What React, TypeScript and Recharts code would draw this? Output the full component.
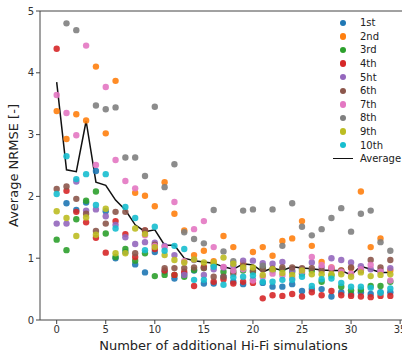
import React from 'react';
import { ComposedChart, Scatter, Line, XAxis, YAxis, ReferenceLine } from 'recharts';

const steps = [0, 1, 2, 3, 4, 5, 6, 7, 8, 9, 10, 11, 12, 13, 14, 15, 16, 17, 18, 19, 20, 21, 22, 23, 24, 25, 26, 27, 28, 29, 30, 31, 32, 33, 34];

const run1 = [null, 1.89, 1.78, 1.9, 2.41, 1.76, 1.0, 1.1, 0.9, 0.77, 1.1, 0.78, 0.67, 0.75, 0.8, 0.59, 0.59, 0.7, 0.62, 0.58, 0.65, 0.6, 0.54, 0.54, 0.58, 0.47, 0.5, 0.5, 0.38, 0.45, 0.42, 0.45, 0.42, 0.45, 0.45];
const run2 = [3.38, 2.93, 3.33, 3.23, 4.1, 3.02, 3.87, null, 2.06, 2.01, 1.84, 2.23, 1.72, 1.45, 1.05, 1.12, 0.95, 1.36, 1.18, 0.92, 1.1, 1.18, 1.04, 1.28, 1.32, 1.6, 1.2, 0.94, 0.85, 0.8, 0.84, 2.08, 1.18, 1.32, 0.8];
const run3 = [1.3, 1.13, 1.63, 1.93, 2.08, 1.4, 1.02, 1.15, 0.96, 1.08, 0.71, 0.73, 0.73, 0.7, 0.81, 0.84, 0.88, 0.78, 0.78, 0.8, 0.78, 0.85, 0.8, 0.82, 0.78, 0.75, 0.8, 0.62, 0.72, 0.54, 0.48, 0.49, 0.55, 0.55, 0.62];
const run4 = [4.39, 2.09, 1.75, 1.58, 1.33, 1.09, 1.6, 1.39, 1.02, 1.45, 1.15, 0.8, 0.73, 0.78, 0.55, 0.86, 0.62, 0.66, 0.59, 0.62, 0.6, 0.35, 0.4, 0.39, 0.42, 0.38, 0.45, 0.4, 0.47, 0.4, 0.39, 0.38, 0.37, 0.39, 0.39];
const run5 = [1.56, 1.56, 2.24, 1.77, 1.79, 1.68, 1.54, 1.34, 1.23, 1.26, 1.25, 1.2, 1.05, 0.73, 0.97, 0.73, 0.82, 0.85, 0.88, 0.96, 0.96, 0.92, 0.91, 0.94, 0.8, 0.82, 0.93, 0.85, 1.0, 0.97, 0.93, 0.87, 0.82, 0.8, 0.84];
const run6 = [2.12, 2.16, 1.96, 1.72, 1.44, 1.56, 1.75, 1.75, 1.08, 1.45, 1.22, 0.84, 0.84, 0.84, 0.85, 0.84, 0.7, 0.7, 0.75, 0.88, 0.8, 0.82, 0.83, 0.85, 0.85, 0.84, 0.84, 0.8, 0.82, 0.8, 0.85, 0.8, 0.97, 0.85, 0.97];
const run7 = [3.64, 3.35, 2.99, 4.44, 2.51, 3.77, 2.59, 2.25, 2.13, 1.37, 1.2, 1.18, 1.91, 0.95, 1.47, 1.6, 1.18, 0.86, 0.8, 0.82, 0.64, 0.7, 0.75, 0.72, 0.68, 0.78, 1.02, 0.89, 0.85, 0.78, 0.75, 0.82, 0.89, 0.78, 0.64];
const run8 = [null, 4.8, 4.69, null, 3.47, 3.41, 3.44, 2.63, 2.63, 2.33, 3.45, 2.15, 2.52, 1.42, 1.31, 1.24, 1.78, 1.11, 0.95, 1.77, 1.79, 0.88, 1.79, 1.2, 1.89, 1.51, 1.37, 1.47, 1.65, 1.81, 1.43, 1.72, 1.77, 1.26, 1.12];
const run9 = [1.76, 1.65, 1.36, 1.66, 1.38, 1.8, 1.08, 1.08, 1.48, 1.39, 1.18, 1.05, 0.97, 0.93, 0.98, 0.93, 0.93, 1.01, 0.91, 0.85, 0.85, 0.73, 0.82, 0.76, 0.73, 0.8, 0.74, 0.74, 0.74, 0.74, 0.7, 0.77, 0.71, 0.73, 0.74];
const run10 = [2.04, 2.65, 2.28, 2.36, 1.86, 2.36, 1.48, 1.83, 1.65, 1.13, 1.51, 1.12, 1.2, 1.15, 0.65, 0.65, 0.86, 0.57, 0.69, 0.7, 0.72, 0.62, 0.62, 0.65, 0.65, 0.7, 0.55, 0.66, 0.67, 0.6, 0.54, 0.54, 0.52, 0.44, 0.51];
const average = [3.85, 2.43, 2.4, 3.22, 2.23, 2.18, 1.94, 1.78, 1.54, 1.43, 1.46, 1.21, 1.21, 1.0, 0.96, 0.94, 0.92, 0.86, 0.82, 0.91, 0.89, 0.78, 0.84, 0.8, 0.86, 0.84, 0.83, 0.81, 0.8, 0.8, 0.73, 0.87, 0.82, 0.77, 0.77];

const runNames = ['1st', '2nd', '3rd', '4th', '5ht', '6th', '7th', '8th', '9th', '10th'];
const runColors = ['#1f77b4', '#ff7f0e', '#2ca02c', '#d62728', '#9467bd', '#8c564b', '#e377c2', '#7f7f7f', '#bcbd22', '#17becf'];
const runs = [run1, run2, run3, run4, run5, run6, run7, run8, run9, run10];

const xTicks = [0, 5, 10, 15, 20, 25, 30, 35];
const yTicks = [0, 1, 2, 3, 4, 5];

const FONT = '"DejaVu Sans", sans-serif';

const toPoints = (vals: (number | null)[]) =>
  steps.map((x, i) => ({ x, y: vals[i] })).filter((p) => p.y != null);

const avgData = steps.map((x, i) => ({ x, y: average[i] }));

const dot = (color: string) => (props: any) => (
  <circle cx={props.cx} cy={props.cy} r={3.2} fill={color} fillOpacity={0.9} />
);

// legend drawn as an overlay so it doesn't eat into the plot height
function LegendBox() {
  return (
    <div style={{ position: 'absolute', left: 333, top: 16, fontFamily: FONT, fontSize: 10, color: '#222' }}>
      {runNames.map((n, i) => (
        <div key={n} style={{ display: 'flex', alignItems: 'center', height: 13.6 }}>
          <span style={{ width: 20, display: 'flex', justifyContent: 'center' }}>
            <span style={{ width: 6.5, height: 6.5, borderRadius: '50%', background: runColors[i], display: 'inline-block' }} />
          </span>
          <span style={{ marginLeft: 7 }}>{n}</span>
        </div>
      ))}
      <div style={{ display: 'flex', alignItems: 'center', height: 13.6 }}>
        <span style={{ width: 20, height: 1.5, background: '#111', display: 'inline-block' }} />
        <span style={{ marginLeft: 7 }}>Average</span>
      </div>
    </div>
  );
}

export default function App() {
  return (
    <div style={{ position: 'absolute', left: 0, top: 0, width: 402, height: 353, overflow: 'hidden', background: '#fff' }}>
      <ComposedChart width={410} height={353} margin={{ top: 11, right: 3, left: 0, bottom: 0 }}>
        <XAxis
          type="number"
          dataKey="x"
          domain={[-1.7, 35.7]}
          ticks={xTicks}
          allowDataOverflow
          tickSize={4}
          height={33}
          stroke="#444"
          tick={{ fontSize: 10, fill: '#333', fontFamily: FONT }}
          label={{ value: 'Number of additional Hi-Fi simulations', position: 'insideBottom', offset: 3, style: { fontSize: 13, fill: '#222', fontFamily: FONT } }}
        />
        <YAxis
          type="number"
          dataKey="y"
          domain={[0, 5]}
          ticks={yTicks}
          allowDataOverflow
          tickSize={4}
          width={40}
          stroke="#444"
          tick={{ fontSize: 10, fill: '#333', fontFamily: FONT }}
          label={{ value: 'Average NRMSE [-]', angle: -90, position: 'insideLeft', offset: 13, style: { textAnchor: 'middle', fontSize: 13, fill: '#222', fontFamily: FONT } }}
        />
        <ReferenceLine y={5} stroke="#444" />
        <ReferenceLine x={35.7} stroke="#444" />
        {runs.map((r, i) => (
          <Scatter
            key={runNames[i]}
            name={runNames[i]}
            data={toPoints(r)}
            fill={runColors[i]}
            shape={dot(runColors[i])}
            isAnimationActive={false}
          />
        ))}
        <Line
          name="Average"
          data={avgData}
          dataKey="y"
          type="linear"
          stroke="#111"
          strokeWidth={1.5}
          dot={false}
          activeDot={false}
          isAnimationActive={false}
        />
      </ComposedChart>
      <LegendBox />
    </div>
  );
}
